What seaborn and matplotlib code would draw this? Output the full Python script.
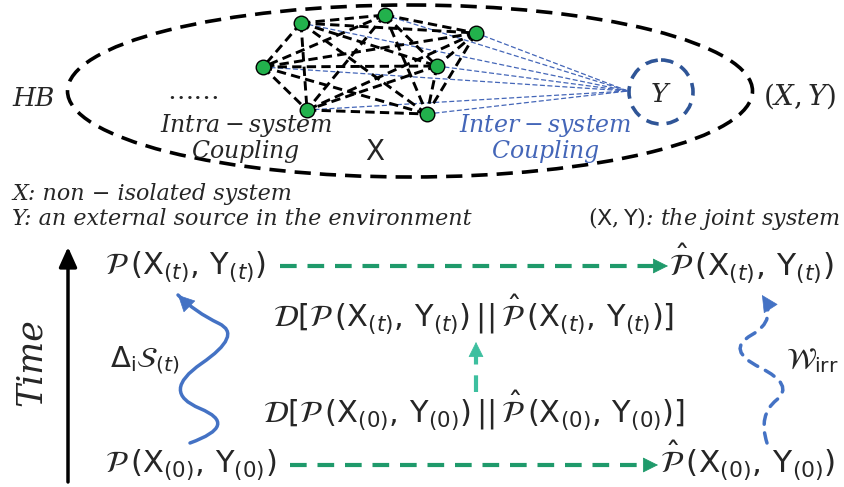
import numpy as np
import matplotlib
matplotlib.use("Agg")
import matplotlib.pyplot as plt
import seaborn as sns
from matplotlib.patches import Ellipse, PathPatch
from matplotlib.path import Path

sns.set_theme(style="white")
plt.rcParams['font.family'] = ['DejaVu Sans']
plt.rcParams['mathtext.fontset'] = 'dejavusans'

# nodes of the non-isolated system X (canvas pixels, y grows downwards)
node_x = [301, 385, 476, 263, 437, 307, 427]
node_y = [23, 15, 33, 67, 66, 110, 114]

# external source Y and the point where the inter-system couplings meet
source_xy = (661, 92)
meet_xy = (628, 91)

# heat bath ellipse
bath_center = (410, 91)
bath_size = (685, 172)

# state labels of the lower panel
p_t = r"$\mathcal{P}\,(\mathrm{X}_{(t)},\,\mathrm{Y}_{(t)})$"
p_0 = r"$\mathcal{P}\,(\mathrm{X}_{(0)},\,\mathrm{Y}_{(0)})$"
ph_t = r"$\hat{\mathcal{P}}\,(\mathrm{X}_{(t)},\,\mathrm{Y}_{(t)})$"
ph_0 = r"$\hat{\mathcal{P}}\,(\mathrm{X}_{(0)},\,\mathrm{Y}_{(0)})$"
d_t = (r"$\mathcal{D}[\mathcal{P}\,(\mathrm{X}_{(t)},\,\mathrm{Y}_{(t)})\,||\,"
       r"\hat{\mathcal{P}}\,(\mathrm{X}_{(t)},\,\mathrm{Y}_{(t)})]$")
d_0 = (r"$\mathcal{D}[\mathcal{P}\,(\mathrm{X}_{(0)},\,\mathrm{Y}_{(0)})\,||\,"
       r"\hat{\mathcal{P}}\,(\mathrm{X}_{(0)},\,\mathrm{Y}_{(0)})]$")

# control points of the two wavy arrows (bottom -> top)
entropy_ctrl = [(190, 443), (240, 425), (160, 392), (243, 335), (195, 312), (178, 295)]
work_ctrl = [(767, 443), (758, 415), (795, 385), (725, 350), (778, 320), (762, 295)]

green = '#1f9a6b'
teal = '#3dbf9f'
blue = '#4472c4'
line_blue = '#4466b8'
dark_blue = '#2f5597'
node_green = '#22b14c'

fig = plt.figure(figsize=(8.44, 4.87), dpi=100)
ax = fig.add_axes([0, 0, 1, 1])
ax.set_xlim(0, 844)
ax.set_ylim(487, 0)
ax.axis('off')

serif = dict(family='DejaVu Serif', math_fontfamily='dejavuserif')

# ---- upper panel: system X, source Y, heat bath ----
ax.add_patch(Ellipse(bath_center, *bath_size, fill=False, ec='black', lw=2.6,
                     ls=(0, (4.5, 2.5))))
ax.add_patch(Ellipse(source_xy, 64, 64, fill=False, ec=dark_blue, lw=2.6,
                     ls=(0, (3.5, 2.2))))

for x, y in zip(node_x, node_y):
    ax.plot([x, meet_xy[0]], [y, meet_xy[1]], color=line_blue, lw=0.9,
            ls=(0, (4, 2)), zorder=2)

n = len(node_x)
for i in range(n):
    for j in range(i + 1, n):
        ax.plot([node_x[i], node_x[j]], [node_y[i], node_y[j]], color='black',
                lw=2.1, ls=(0, (3.2, 1.8)), zorder=3)

sns.scatterplot(x=node_x, y=node_y, s=110, color=node_green, edgecolor='black',
                linewidth=1, ax=ax, zorder=5, legend=False)

ax.text(12, 106, 'HB', fontsize=19, style='italic', **serif)
ax.text(763, 105, r'$(X,Y)$', fontsize=20, **serif)
ax.text(source_xy[0], 102, r'$Y$', fontsize=19, ha='center', **serif)
ax.text(194, 99, '……', fontsize=19, ha='center', family='DejaVu Serif')
ax.text(246, 132, r'$Intra-system$', fontsize=17, ha='center', **serif)
ax.text(246, 158, r'$Coupling$', fontsize=17, ha='center', **serif)
ax.text(375, 160, 'X', fontsize=20, ha='center', family='DejaVu Sans')
ax.text(545, 132, r'$Inter-system$', fontsize=17, ha='center', color=line_blue, **serif)
ax.text(546, 158, r'$Coupling$', fontsize=17, ha='center', color=line_blue, **serif)

# ---- legend lines ----
ax.text(12, 200, 'X: non − isolated system', fontsize=16, style='italic', **serif)
ax.text(12, 225, 'Y: an external source in the environment', fontsize=16,
        style='italic', **serif)
ax.text(840, 225, r'$(\mathsf{X},\mathsf{Y})$: the joint system', fontsize=16,
        style='italic', ha='right', **serif)

# ---- lower panel ----
ax.annotate('', xy=(68, 247), xytext=(68, 482),
            arrowprops=dict(arrowstyle='-|>,head_length=1.0,head_width=0.45',
                            mutation_scale=12, lw=2.5, color='black',
                            shrinkA=0, shrinkB=0))
ax.text(31, 362, 'Time', fontsize=25, style='italic', rotation=90,
        ha='center', va='center', family='DejaVu Serif')

ax.text(105, 275, p_t, fontsize=22)
ax.text(105, 473, p_0, fontsize=22)
ax.text(669, 276, ph_t, fontsize=22.5)
ax.text(660, 473, ph_0, fontsize=22.5)
ax.text(474, 327, d_t, fontsize=22, ha='center')
ax.text(474, 423, d_0, fontsize=22, ha='center')


def arrow_head(x_from, y_from, x1, y1, color, head=14, scale=10):
    dx, dy = x1 - x_from, y1 - y_from
    length = np.hypot(dx, dy)
    ux, uy = dx / length, dy / length
    ax.annotate('', xy=(x1, y1), xytext=(x1 - ux * head, y1 - uy * head),
                arrowprops=dict(arrowstyle='-|>,head_length=1.0,head_width=0.5',
                                mutation_scale=scale, lw=0.5, color=color,
                                shrinkA=0, shrinkB=0))
    return ux, uy


def dashed_arrow(x0, y0, x1, y1, color, lw=3.0, head=14):
    ux, uy = arrow_head(x0, y0, x1, y1, color, head)
    ax.plot([x0, x1 - ux * head], [y0, y1 - uy * head], color=color, lw=lw,
            ls=(0, (4, 2.6)), solid_capstyle='butt')


dashed_arrow(280, 266, 668, 266, green)
dashed_arrow(290, 465, 658, 465, green)
dashed_arrow(476, 392, 476, 342, teal)


def wave_path(pts):
    # quadratic B-spline style path through the midpoints of the control points
    verts = [pts[0]]
    codes = [Path.MOVETO]
    inner = pts[1:-1]
    for k, c in enumerate(inner):
        if k < len(inner) - 1:
            nxt = inner[k + 1]
            end = ((c[0] + nxt[0]) / 2, (c[1] + nxt[1]) / 2)
        else:
            end = pts[-1]
        verts += [c, end]
        codes += [Path.CURVE3, Path.CURVE3]
    return Path(verts, codes)


def wavy_arrow(pts, ls):
    ax.add_patch(PathPatch(wave_path(pts), fill=False, ec=blue, lw=2.5, ls=ls,
                           capstyle='round'))
    arrow_head(pts[-2][0], pts[-2][1], pts[-1][0], pts[-1][1], blue, head=15, scale=11)


wavy_arrow(entropy_ctrl, '-')
wavy_arrow(work_ctrl, (0, (3, 2.5)))

ax.text(110, 367, r'$\Delta_{\mathrm{i}}\mathcal{S}_{(t)}$', fontsize=21)
ax.text(786, 368, r'$\mathcal{W}_{\mathrm{irr}}$', fontsize=21)

fig.savefig('out.png', dpi=100)
